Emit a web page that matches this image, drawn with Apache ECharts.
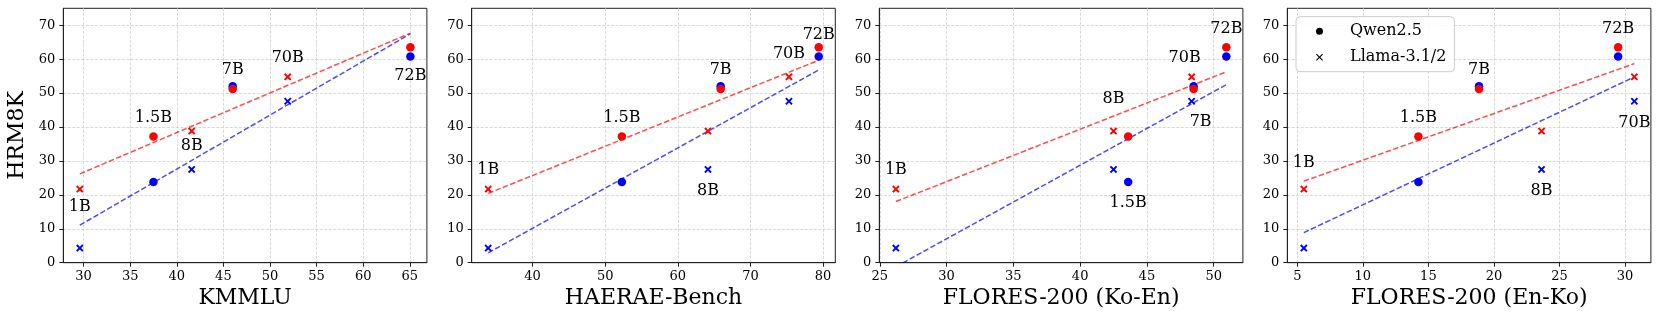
<!DOCTYPE html>
<html><head><meta charset="utf-8">
<script src="https://cdn.jsdelivr.net/npm/echarts@6/dist/echarts.min.js"></script>
<style>html,body{margin:0;padding:0;background:#fff}#c{width:1660px;height:320px}</style>
</head><body><div id="c"></div>
<script>
// ---------------- DATA ----------------
const benchmarks = ['KMMLU', 'HAERAE-Bench', 'FLORES-200 (Ko-En)', 'FLORES-200 (En-Ko)'];
const qwenSizes = ['1.5B', '7B', '72B'];
const llamaSizes = ['1B', '8B', '70B'];

// HRM8K scores (y) – red and blue groups
const hrmRedQwen = [37.2, 51.2, 63.5];
const hrmBlueQwen = [23.8, 52.0, 60.8];
const hrmRedLlama = [21.7, 38.8, 54.8];
const hrmBlueLlama = [4.3, 27.5, 47.6];

// Benchmark scores (x) per panel
const kmmluQwen = [37.5, 46.0, 65.06];
const kmmluLlama = [29.6, 41.6, 51.9];
const haeraeQwen = [52.3, 65.9, 79.4];
const haeraeLlama = [33.9, 64.15, 75.3];
const koEnQwen = [43.6, 48.5, 50.95];
const koEnLlama = [26.2, 42.5, 48.35];
const enKoQwen = [14.24, 18.86, 29.47];
const enKoLlama = [5.5, 23.63, 30.71];

// Tick labels
const yTicks = [0, 10, 20, 30, 40, 50, 60, 70];
const xTicks1 = [30, 35, 40, 45, 50, 55, 60, 65];
const xTicks2 = [40, 50, 60, 70, 80];
const xTicks3 = [25, 30, 35, 40, 45, 50];
const xTicks4 = [5, 10, 15, 20, 25, 30];

// ---------------- LAYOUT / STYLE ----------------
const FONT = 'DejaVu Serif';
const xQwen = [kmmluQwen, haeraeQwen, koEnQwen, enKoQwen];
const xLlama = [kmmluLlama, haeraeLlama, koEnLlama, enKoLlama];
const xTicks = [xTicks1, xTicks2, xTicks3, xTicks4];
const xRange = [[27.83, 66.83], [31.63, 81.68], [24.96, 52.19], [4.24, 31.97]];
const gridLeft = [63.3, 471.7, 879.3, 1287.3];
const RED = '#ff0000', BLUE = '#0000ff';
const RED_LINE = 'rgba(255,0,0,0.7)', BLUE_LINE = 'rgba(0,0,255,0.7)';
const CROSS = 'path://M0,1.8L1.8,0L5,3.2L8.2,0L10,1.8L6.8,5L10,8.2L8.2,10L5,6.8L1.8,10L0,8.2L3.2,5Z';
const CROSS_THIN = 'path://M0,1.1L1.1,0L5,3.9L8.9,0L10,1.1L6.1,5L10,8.9L8.9,10L5,6.1L1.1,10L0,8.9L3.9,5Z';

// label placement: [model, anchor colour, dx, dy] (pixel offsets)
const labelPlacement = [
  [['1B', 'red', 0, 18], ['1.5B', 'red', 0, -19], ['8B', 'red', 0, 15], ['7B', 'blue', 0, -16], ['70B', 'red', 0, -19], ['72B', 'blue', 0, 19]],
  [['1B', 'red', 0, -19], ['1.5B', 'red', 0, -19], ['8B', 'blue', 0, 21], ['7B', 'blue', 0, -16], ['70B', 'red', 0, -23], ['72B', 'red', 0, -12.5]],
  [['1B', 'red', 0, -19], ['8B', 'red', 0, -32], ['1.5B', 'blue', 0, 21], ['70B', 'red', -7, -19], ['7B', 'blue', 7, 36], ['72B', 'red', 0, -18.6]],
  [['1B', 'red', 0, -26], ['1.5B', 'red', 0, -19], ['7B', 'blue', 0, -16], ['8B', 'blue', 0, 21], ['72B', 'red', 0, -18.6], ['70B', 'blue', 0, 21.7]]
];

function pts(xs, ys) { return xs.map((x, i) => [x, ys[i]]); }
function fitLine(points) {
  const n = points.length;
  const mx = points.reduce((s, p) => s + p[0], 0) / n;
  const my = points.reduce((s, p) => s + p[1], 0) / n;
  let sxy = 0, sxx = 0;
  points.forEach(p => { sxy += (p[0] - mx) * (p[1] - my); sxx += (p[0] - mx) ** 2; });
  const k = sxy / sxx, b = my - k * mx;
  const xs = points.map(p => p[0]);
  const x0 = Math.min(...xs), x1 = Math.max(...xs);
  return [[x0, k * x0 + b], [x1, k * x1 + b]];
}

const grids = [], xAxes = [], yAxes = [], series = [];
for (let i = 0; i < 4; i++) {
  grids.push({ left: gridLeft[i], top: 8.3, width: 363.6, height: 254.4, show: true,
    borderColor: '#222', borderWidth: 1, backgroundColor: 'transparent' });
  const splitLine = { show: true, lineStyle: { color: '#cfcfcf', type: [3, 1.5], width: 0.8 } };
  xAxes.push({
    gridIndex: i, type: 'value', min: xRange[i][0], max: xRange[i][1], splitNumber: 6,
    name: benchmarks[i], nameLocation: 'middle', nameGap: 24,
    nameTextStyle: { fontFamily: FONT, fontSize: 22, color: '#000' },
    axisLine: { show: true, onZero: false, lineStyle: { color: '#222', width: 1 } },
    axisTick: { show: true, length: 4, customValues: xTicks[i], lineStyle: { color: '#222' } },
    axisLabel: { customValues: xTicks[i], fontFamily: FONT, fontSize: 13, color: '#000', margin: 7 },
    splitLine: splitLine
  });
  yAxes.push({
    gridIndex: i, type: 'value', min: 0, max: 75, interval: 10,
    name: i === 0 ? 'HRM8K' : '', nameLocation: 'middle', nameGap: 35,
    nameTextStyle: { fontFamily: FONT, fontSize: 22, color: '#000' },
    axisLine: { show: true, lineStyle: { color: '#222', width: 1 } },
    axisTick: { show: true, length: 4, customValues: yTicks, lineStyle: { color: '#222' } },
    axisLabel: { customValues: yTicks, fontFamily: FONT, fontSize: 13, color: '#000', margin: 8 },
    splitLine: splitLine
  });

  const blueQ = pts(xQwen[i], hrmBlueQwen), blueL = pts(xLlama[i], hrmBlueLlama);
  const redQ = pts(xQwen[i], hrmRedQwen), redL = pts(xLlama[i], hrmRedLlama);

  series.push({ type: 'line', xAxisIndex: i, yAxisIndex: i, data: fitLine(blueQ.concat(blueL)),
    showSymbol: false, silent: true, clip: true, lineStyle: { color: BLUE_LINE, width: 1.5, type: [5.5, 2.4] }, z: 1 });
  series.push({ type: 'line', xAxisIndex: i, yAxisIndex: i, data: fitLine(redQ.concat(redL)),
    showSymbol: false, silent: true, clip: true, lineStyle: { color: RED_LINE, width: 1.5, type: [5.5, 2.4] }, z: 1 });

  series.push({ type: 'scatter', xAxisIndex: i, yAxisIndex: i, data: blueQ, symbol: 'circle', symbolSize: 8.5, itemStyle: { color: BLUE, opacity: 1 }, z: 2 });
  series.push({ type: 'scatter', xAxisIndex: i, yAxisIndex: i, data: blueL, symbol: CROSS, symbolSize: 7.5, itemStyle: { color: BLUE, opacity: 1 }, z: 2 });
  series.push({ type: 'scatter', xAxisIndex: i, yAxisIndex: i, data: redQ, symbol: 'circle', symbolSize: 8.5, itemStyle: { color: RED, opacity: 1 }, z: 2 });
  series.push({ type: 'scatter', xAxisIndex: i, yAxisIndex: i, data: redL, symbol: CROSS, symbolSize: 7.5, itemStyle: { color: RED, opacity: 1 }, z: 2 });

  const labelData = labelPlacement[i].map(([m, col, dx, dy]) => {
    const qi = qwenSizes.indexOf(m), li = llamaSizes.indexOf(m);
    let p;
    if (qi >= 0) p = col === 'red' ? redQ[qi] : blueQ[qi];
    else p = col === 'red' ? redL[li] : blueL[li];
    return { value: p, name: m, label: { offset: [dx, dy] } };
  });
  series.push({ type: 'scatter', xAxisIndex: i, yAxisIndex: i, data: labelData, symbolSize: 0, silent: true, z: 3,
    itemStyle: { color: 'transparent', opacity: 1 },
    label: { show: true, position: 'inside', formatter: p => p.name, fontFamily: FONT, fontSize: 16, color: '#000',
      align: 'center', verticalAlign: 'middle' } });
}
// Legend-only series
series.push({ type: 'scatter', name: 'Qwen2.5', xAxisIndex: 3, yAxisIndex: 3, data: [], symbol: 'circle', itemStyle: { color: '#000', opacity: 1 } });
series.push({ type: 'scatter', name: 'Llama-3.1/2', xAxisIndex: 3, yAxisIndex: 3, data: [], symbol: CROSS_THIN, itemStyle: { color: '#000', opacity: 1 } });

const chart = echarts.init(document.getElementById('c'), null, { renderer: 'canvas' });
chart.setOption({
  animation: false,
  backgroundColor: '#fff',
  grid: grids, xAxis: xAxes, yAxis: yAxes, series: series,
  legend: {
    data: [{ name: 'Qwen2.5', icon: 'circle' }, { name: 'Llama-3.1/2', icon: CROSS_THIN }],
    orient: 'vertical', left: 1296, top: 16.7, padding: [5, 8, 5, 20], itemGap: 7,
    itemWidth: 7, itemHeight: 7, selectedMode: false,
    borderColor: '#cccccc', borderWidth: 1, borderRadius: 4, backgroundColor: 'rgba(255,255,255,0.85)',
    textStyle: { fontFamily: FONT, fontSize: 16, color: '#000', lineHeight: 19, padding: [0, 0, 0, 22] }
  }
});
</script></body></html>
